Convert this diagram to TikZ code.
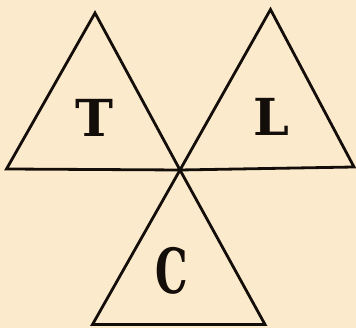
\documentclass[tikz,border=0pt]{standalone}
\usepackage{fontspec}
\newfontfamily\slabfont{DejaVu Serif}
\definecolor{paper}{RGB}{252,234,204}
\definecolor{ink}{RGB}{20,14,10}
\tikzset{
  tri/.style={draw=ink, line width=2.8pt, line join=miter},
  letter/.style={text=ink, font=\slabfont\fontsize{51}{51}\selectfont\bfseries, inner sep=0pt}
}
\begin{document}
\begin{tikzpicture}[x=1pt,y=1pt]
\fill[paper] (0,0) rectangle (356,328);
\useasboundingbox (0,0) rectangle (356,328);
\coordinate (O) at (180,158);
\coordinate (Ta) at (95,315);
\coordinate (Tl) at (6.5,159);
\coordinate (La) at (270.5,318.5);
\coordinate (Lr) at (354,161);
\coordinate (Cl) at (92.5,3.5);
\coordinate (Cr) at (265,3.5);
\draw[tri] (Tl) -- (Ta) -- (O) -- cycle;
\draw[tri] (O) -- (La) -- (Lr) -- cycle;
\draw[tri] (O) -- (Cr) -- (Cl) -- cycle;
\node[letter] (T) at (94,210) {T};
\node[letter] (L) at (271,211) {L};
\node[letter, xscale=0.8, yscale=1.22] (C) at (172,57) {C};
\end{tikzpicture}
\end{document}
